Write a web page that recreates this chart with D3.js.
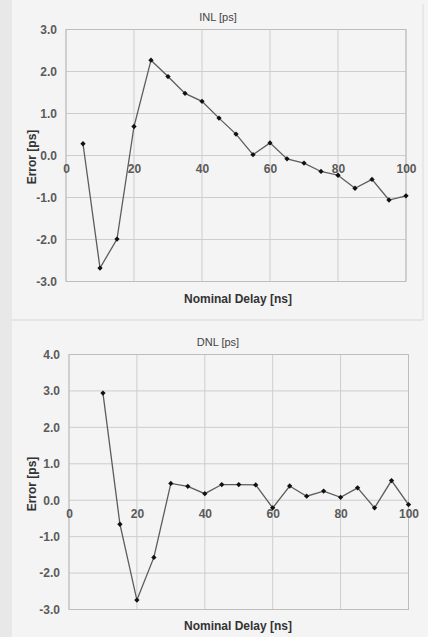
<!DOCTYPE html>
<html lang="en">

<head>
    <meta charset="UTF-8">
    <meta name="viewport" content="width=device-width, initial-scale=1.0">
    <script src="https://d3js.org/d3.v7.min.js"></script>
    <style>
        body {
            margin: 0;
            background: #f3f3f3;
        }

        text {
            font-family: Arial, 'Liberation Sans', sans-serif;
        }
    </style>
    <title>INL / DNL</title>
</head>

<body>
    <div class="canvas"></div>
    <script>
        const areaWidth = 428
        const areaHeight = 637

        // nominal delay [ns]
        const inlDelays = [5, 10, 15, 20, 25, 30, 35, 40, 45, 50, 55, 60, 65, 70, 75, 80, 85, 90, 95, 100]
        const inlValues = [0.28, -2.68, -1.99, 0.69, 2.27, 1.88, 1.48, 1.29, 0.89, 0.51, 0.02, 0.30, -0.08, -0.18, -0.38, -0.47, -0.78, -0.57, -1.06, -0.96]

        const dnlDelays = [10, 15, 20, 25, 30, 35, 40, 45, 50, 55, 60, 65, 70, 75, 80, 85, 90, 95, 100]
        const dnlValues = [2.94, -0.66, -2.74, -1.57, 0.46, 0.38, 0.18, 0.43, 0.43, 0.42, -0.21, 0.39, 0.11, 0.25, 0.08, 0.34, -0.21, 0.54, -0.12]

        const xTicks = [0, 20, 40, 60, 80, 100]
        const inlTicks = [-3, -2, -1, 0, 1, 2, 3]
        const dnlTicks = [-3, -2, -1, 0, 1, 2, 3, 4]

        const svg = d3.select('.canvas')
            .append('svg')
            .attr('width', areaWidth)
            .attr('height', areaHeight)

        // scanned page look
        svg.append('rect')
            .attr('width', areaWidth)
            .attr('height', areaHeight)
            .attr('fill', '#f4f4f4')
        svg.append('rect')
            .attr('width', 12)
            .attr('height', areaHeight)
            .attr('fill', '#e8e8e8')
        svg.append('line')
            .attr('x1', 12).attr('x2', 423)
            .attr('y1', 320).attr('y2', 320)
            .attr('stroke', '#d6d6d6')
        svg.append('line')
            .attr('x1', 423).attr('x2', 423)
            .attr('y1', 4).attr('y2', 320)
            .attr('stroke', '#dcdcdc')

        const panels = [
            {
                title: 'INL [ps]', xs: inlDelays, ys: inlValues, yTicks: inlTicks,
                left: 66, right: 406, top: 29.5, bottom: 281.5, titleY: 21, xTitleY: 303, yTitleCy: 157
            },
            {
                title: 'DNL [ps]', xs: dnlDelays, ys: dnlValues, yTicks: dnlTicks,
                left: 69, right: 408.5, top: 354.5, bottom: 609.5, titleY: 346, xTitleY: 630, yTitleCy: 484
            }
        ]

        panels.forEach(p => {
            const x = d3.scaleLinear()
                .domain([0, 100])
                .range([p.left, p.right])

            const y = d3.scaleLinear()
                .domain(d3.extent(p.yTicks))
                .range([p.bottom, p.top])

            const g = svg.append('g')

            // grid
            g.append('g')
                .selectAll('line.h')
                .data(p.yTicks)
                .enter()
                .append('line')
                .attr('x1', p.left).attr('x2', p.right)
                .attr('y1', d => y(d)).attr('y2', d => y(d))
                .attr('stroke', '#cdcdcd')
                .attr('stroke-width', 1)

            g.append('g')
                .selectAll('line.v')
                .data(xTicks)
                .enter()
                .append('line')
                .attr('x1', d => x(d)).attr('x2', d => x(d))
                .attr('y1', p.top).attr('y2', p.bottom)
                .attr('stroke', '#cdcdcd')
                .attr('stroke-width', 1)

            g.append('rect')
                .attr('x', p.left).attr('y', p.top)
                .attr('width', p.right - p.left)
                .attr('height', p.bottom - p.top)
                .attr('fill', 'none')
                .attr('stroke', '#bdbdbd')

            // y axis labels (plain hyphen for negatives, as in the scan)
            const yAxis = d3.axisLeft(y)
                .tickValues(p.yTicks)
                .tickFormat(d => d.toFixed(1))
                .tickSize(0)
                .tickPadding(9)
            const yAxisG = g.append('g')
                .attr('transform', `translate(${p.left},0)`)
                .call(yAxis)
            yAxisG.select('.domain').remove()

            // x axis labels sit on the zero line
            const xAxis = d3.axisBottom(x)
                .tickValues(xTicks)
                .tickFormat(d => String(d))
                .tickSize(0)
                .tickPadding(9)
            const xAxisG = g.append('g')
                .attr('transform', `translate(0,${y(0)})`)
                .call(xAxis)
            xAxisG.select('.domain').remove()

            g.selectAll('.tick text')
                .attr('fill', '#5a5a5a')
                .style('font-size', '12px')
                .style('font-weight', 'bold')

            // data
            const data = p.xs.map((d, i) => ({ x: d, y: p.ys[i] }))

            const line = d3.line()
                .x(d => x(d.x))
                .y(d => y(d.y))

            g.append('path')
                .attr('fill', 'none')
                .attr('stroke', '#5c5c5c')
                .attr('stroke-width', 1.3)
                .attr('d', line(data))

            g.selectAll('path.pt')
                .data(data)
                .enter()
                .append('path')
                .attr('d', d3.symbol().type(d3.symbolSquare).size(14))
                .attr('transform', d => `translate(${x(d.x)},${y(d.y)}) rotate(45)`)
                .attr('fill', '#111')

            // titles
            g.append('text')
                .attr('x', 218)
                .attr('y', p.titleY)
                .attr('text-anchor', 'middle')
                .attr('fill', '#444')
                .style('font-size', '11px')
                .text(p.title)

            g.append('text')
                .attr('x', 238)
                .attr('y', p.xTitleY)
                .attr('text-anchor', 'middle')
                .attr('fill', '#333')
                .style('font-size', '12px')
                .style('font-weight', 'bold')
                .text('Nominal Delay [ns]')

            g.append('text')
                .attr('transform', `translate(36,${p.yTitleCy}) rotate(-90)`)
                .attr('text-anchor', 'middle')
                .attr('fill', '#333')
                .style('font-size', '12px')
                .style('font-weight', 'bold')
                .text('Error [ps]')
        })
    </script>

</body>

</html>
